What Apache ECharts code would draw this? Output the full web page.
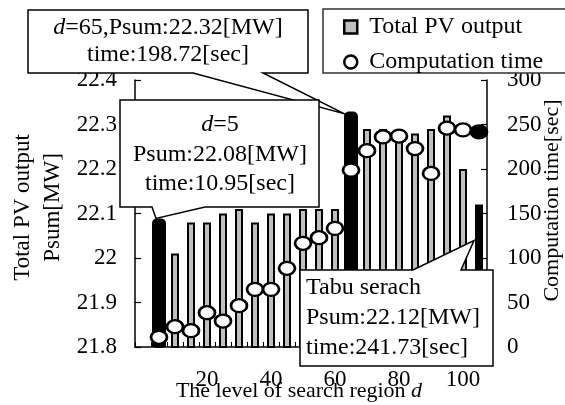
<!DOCTYPE html>
<html><head><meta charset="utf-8">
<script src="https://cdn.jsdelivr.net/npm/echarts@6/dist/echarts.min.js"></script>
<style>html,body{margin:0;padding:0;background:#fff}#c{width:565px;height:405px}</style>
</head><body><div id="c"></div>
<script>
// ---- data ----
const categories = ['0','5','10','15','20','25','30','35','40','45','50','55','60','65','70','75','80','85','90','95','100','Tabu'];
const pvOutput  = [null,22.08,22.01,22.08,22.08,22.10,22.11,22.08,22.10,22.10,22.11,22.11,22.11,22.32,22.29,22.29,22.28,22.28,22.29,22.32,22.20,22.12];
const compTime  = [null,10.95,22.8,18.3,38.5,29.2,46.4,64.8,64.8,88.4,116.5,122.8,133.3,198.72,220.6,236,237,223,195,246,244,241.73];
const wideBlack = ['5','65'];
const tabuCat = 'Tabu';
const xTickLabels = ['20','40','60','80','100'];
const leftMin = 21.8, leftMax = 22.4, leftStep = 0.1;
const rightMin = 0, rightMax = 300, rightStep = 50;
const seriesNames = ['Total PV output','Computation time'];

const FONT = 'Liberation Serif';
const FS = 23;
const BFS = 24;

const barData = pvOutput.map((v,i)=>{
  const c = categories[i];
  if (wideBlack.includes(c) || c === tabuCat) return {value:v, itemStyle:{color:'#000',borderColor:'#000',borderWidth:2}};
  return v;
});
const wideData = categories.map((c,i)=> wideBlack.includes(c) ? [i, pvOutput[i]] : null).filter(Boolean);
const scatData = compTime.map((v,i)=> categories[i]===tabuCat ? {value:v,itemStyle:{color:'#000'}} : v);

const chart = echarts.init(document.getElementById('c'), null, {renderer:'canvas'});
const axisCommon = {
  axisLine:{show:true,lineStyle:{color:'#000',width:1.5}},
  axisTick:{show:true,inside:true,length:6,lineStyle:{color:'#000',width:1.2}},
  splitLine:{show:false},
  axisLabel:{color:'#000',fontSize:FS,fontFamily:FONT},
  nameMoveOverlap:false
};
chart.setOption({
  animation:false,
  textStyle:{fontFamily:FONT,color:'#000'},
  grid:{left:135,right:78,top:80,bottom:58,containLabel:false,outerBoundsMode:'none'},
  legend:{
    orient:'vertical', left:343, top:15, padding:0, itemWidth:27, itemHeight:13, itemGap:11,
    textStyle:{fontSize:BFS,lineHeight:24,fontFamily:FONT,color:'#000'},
    selectedMode:false, z:60,
    data:[
      {name:seriesNames[0], icon:'path://M0,0H10V10H0Z', itemStyle:{color:'#bfbfbf',borderColor:'#000',borderWidth:2.5}},
      {name:seriesNames[1], icon:'circle', itemStyle:{color:'#fff',borderColor:'#000',borderWidth:2.5}}
    ]
  },
  xAxis:{
    type:'category', data:categories, boundaryGap:true, nameMoveOverlap:false,
    axisLine:{show:true,lineStyle:{color:'#000',width:1.5}},
    axisTick:{show:true,inside:true,length:5,interval:0,lineStyle:{color:'#000',width:1}},
    axisLabel:{interval:0,color:'#000',fontSize:FS,fontFamily:FONT,margin:21,
      formatter:v=> xTickLabels.includes(v)? v : ''},
    splitLine:{show:false},
    name:'The level of search region {i|d}', nameLocation:'middle', nameGap:33,
    nameTextStyle:{fontSize:22,fontFamily:FONT,color:'#000',padding:[0,24,0,0],
      rich:{i:{fontStyle:'italic',fontSize:22,fontFamily:FONT,color:'#000'}}}
  },
  yAxis:[
    Object.assign({}, axisCommon, {
      type:'value', position:'left', min:leftMin, max:leftMax, interval:leftStep,
      axisLabel:Object.assign({}, axisCommon.axisLabel, {margin:18, formatter:v=>String(+v.toFixed(1))}),
      name:'Total PV output\nPsum[MW]', nameLocation:'middle', nameRotate:90, nameGap:67,
      nameTextStyle:{fontSize:FS,fontFamily:FONT,color:'#000',lineHeight:30,padding:[0,0,0,12]}
    }),
    Object.assign({}, axisCommon, {
      type:'value', position:'right', min:rightMin, max:rightMax, interval:rightStep,
      axisLabel:Object.assign({}, axisCommon.axisLabel, {margin:20}),
      name:'Computation time[sec]', nameLocation:'middle', nameRotate:90, nameGap:54,
      nameTextStyle:{fontSize:22,fontFamily:FONT,color:'#000',padding:[0,0,0,26]}
    })
  ],
  series:[
    {name:seriesNames[0], type:'bar', yAxisIndex:0, barWidth:8, data:barData, z:2,
     itemStyle:{color:'#bfbfbf',borderColor:'#000',borderWidth:2}},
    {name:'highlight', type:'custom', yAxisIndex:0, z:3, data:wideData,
     renderItem:(params, api)=>{
       const top = api.coord([api.value(0), api.value(1)]);
       const base = api.coord([api.value(0), leftMin]);
       return {type:'rect', shape:{x:top[0]-7, y:top[1]-4, width:14, height:base[1]-top[1]+4, r:[5,5,0,0]},
               style:{fill:'#000'}};
     }},
    {name:seriesNames[1], type:'scatter', yAxisIndex:1, symbol:'circle', symbolSize:[16,13], data:scatData, z:5,
     itemStyle:{color:'#fff',borderColor:'#000',borderWidth:2.5,opacity:1}}
  ]
});

// ---- callouts anchored to data ----
function px(cat, val){ return chart.convertToPixel({xAxisIndex:0,yAxisIndex:0},[cat,val]); }
const i5 = categories.indexOf('5'), i65 = categories.indexOf('65'), iT = categories.indexOf(tabuCat);
const p5 = px('5', pvOutput[i5]);
const p65 = px('65', pvOutput[i65]);
const pT = px(tabuCat, pvOutput[iT]);
const tip5 = [p5[0]-3, p5[1]-4];
const tip65 = [p65[0]-7, p65[1]-2];
const tipT = [pT[0]-5, pT[1]+36];

const boxStyle = {fill:'#fff', stroke:'#000', lineWidth:1.5};
const rich = {i:{fontStyle:'italic',fontSize:BFS,fontFamily:FONT,fill:'#000'}};
function txt(text,x,y,align){
  return {type:'text', z:101, style:{text:text, x:x, y:y, align:align||'center', verticalAlign:'middle',
    fontSize:BFS, fontFamily:FONT, fill:'#000', rich:rich}};
}
const g = [
  {type:'rect', z:50, shape:{x:323,y:9,width:260,height:64}, style:{fill:'#fff',stroke:'#333',lineWidth:1.5}},
  {type:'polygon', z:100, shape:{points:[[28,10],[308,10],[308,73],[263,73],tip65,[193,73],[28,73]]}, style:boxStyle},
  txt('{i|d}=65,Psum:22.32[MW]',168,28),
  txt('time:198.72[sec]',168,55),
  {type:'polygon', z:100, shape:{points:[[120,100],[319,100],[319,207],[205,207],tip5,[152,207],[120,207]]}, style:boxStyle},
  txt('{i|d}=5',220,125),
  txt('Psum:22.08[MW]',220,155),
  txt('time:10.95[sec]',220,184),
  {type:'polygon', z:100, shape:{points:[[300,270],[413,270],tipT,[461,270],[493,270],[493,366],[300,366]]}, style:boxStyle},
  txt('Tabu serach',306,288,'left'),
  txt('Psum:22.12[MW]',306,318,'left'),
  txt('time:241.73[sec]',306,348,'left')
];
chart.setOption({graphic:g});
</script></body></html>
